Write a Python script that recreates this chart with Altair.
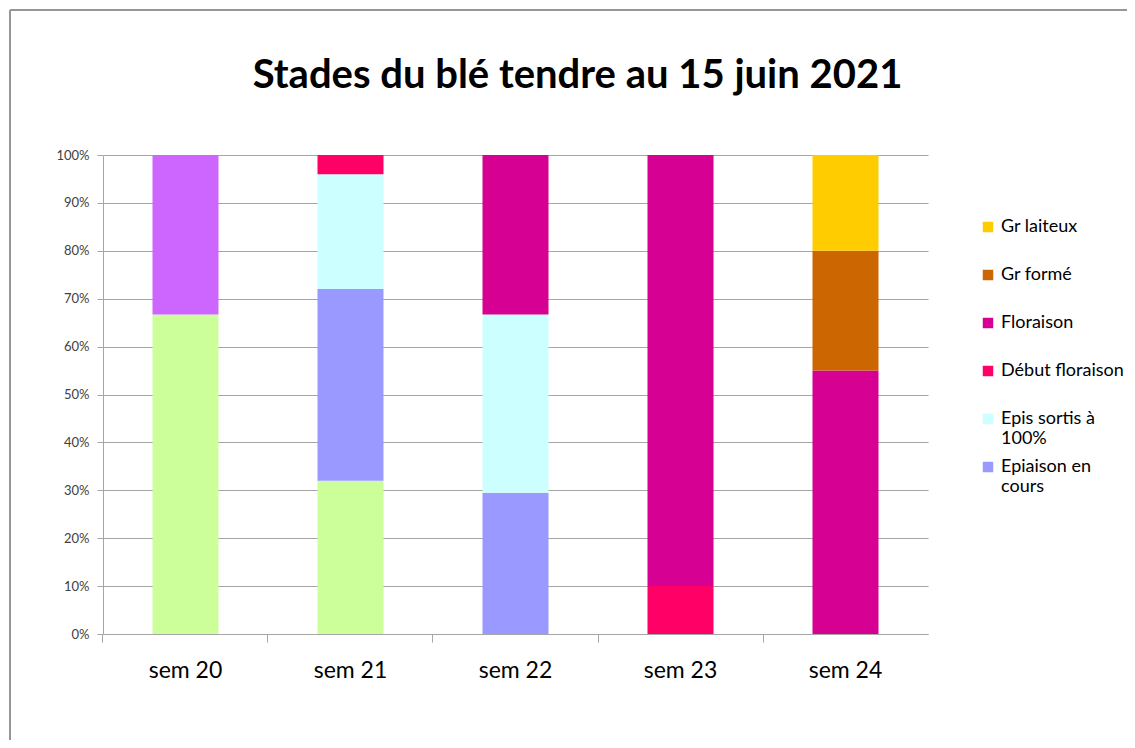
import altair as alt
import pandas as pd

weeks = ["sem 20", "sem 21", "sem 22", "sem 23", "sem 24"]

# Stages, bottom of stack first
stages = ["Dernière feuille étalée", "Gonflement", "Epiaison en cours",
          "Epis sortis à 100%", "Début floraison", "Floraison", "Gr formé", "Gr laiteux"]
colors = ["#CCFF99", "#CC66FF", "#9999FF", "#CCFFFF", "#FF0066", "#D60093", "#CC6600", "#FFCC00"]

# share of plots per stage, per week (values in %)
derniere_feuille = [66.7, 32.0, 0.0, 0.0, 0.0]
gonflement       = [33.3, 0.0, 0.0, 0.0, 0.0]
epiaison         = [0.0, 40.0, 29.5, 0.0, 0.0]
epis_sortis      = [0.0, 24.0, 37.2, 0.0, 0.0]
debut_floraison  = [0.0, 4.0, 0.0, 10.0, 0.0]
floraison        = [0.0, 0.0, 33.3, 90.0, 55.0]
gr_forme         = [0.0, 0.0, 0.0, 0.0, 25.0]
gr_laiteux       = [0.0, 0.0, 0.0, 0.0, 20.0]

legend_shown = ["Gr laiteux", "Gr formé", "Floraison", "Début floraison",
                "Epis sortis à 100%", "Epiaison en cours"]

series = [derniere_feuille, gonflement, epiaison, epis_sortis,
          debut_floraison, floraison, gr_forme, gr_laiteux]
rows = []
for i, (st, vals) in enumerate(zip(stages, series)):
    for w, v in zip(weeks, vals):
        if v > 0:
            rows.append({"sem": w, "stade": st, "pct": v / 100.0, "ordre": i})
df = pd.DataFrame(rows)

FONT = "Lato"

bars = alt.Chart(df).mark_bar().encode(
    x=alt.X("sem:N", sort=weeks, title=None,
            scale=alt.Scale(paddingInner=0.6, paddingOuter=0.3),
            axis=alt.Axis(labelAngle=0, labelFontSize=23, labelColor="#000000",
                          labelFont=FONT, bandPosition=-0.75, labelOffset=0,
                          tickSize=8, tickColor="#A6A6A6", domainColor="#A6A6A6",
                          labelPadding=17)),
    y=alt.Y("pct:Q", stack="zero", title=None,
            scale=alt.Scale(domain=[0, 1]),
            axis=alt.Axis(format=".0%", values=[i / 10 for i in range(11)],
                          labelFontSize=13, labelColor="#404040", labelFont=FONT,
                          tickSize=6, tickColor="#A6A6A6", domainColor="#A6A6A6",
                          gridColor="#A6A6A6", labelPadding=8)),
    color=alt.Color("stade:N",
                    scale=alt.Scale(domain=stages, range=colors),
                    legend=alt.Legend(
                        values=legend_shown, title=None, orient="none",
                        legendX=876, legendY=63,
                        symbolType="square", symbolSize=110, symbolStrokeWidth=0,
                        labelFontSize=18, labelFont=FONT, labelColor="#000000",
                        rowPadding=10, labelOffset=4,
                        labelExpr="datum.label == 'Epis sortis à 100%' ? ['Epis sortis à', '100%'] : datum.label == 'Epiaison en cours' ? ['Epiaison en', 'cours'] : [datum.label, '']",
                        labelLimit=300)),
    order=alt.Order("ordre:Q", sort="ascending"),
)

frame_top = alt.Chart(df).mark_rule(color="#969696", strokeWidth=1.5).encode(
    x=alt.value(-93), x2=alt.value(1040), y=alt.value(-145))
frame_left = alt.Chart(df).mark_rule(color="#969696", strokeWidth=1.5).encode(
    x=alt.value(-93), y=alt.value(-145), y2=alt.value(600))

chart = alt.layer(frame_top, frame_left, bars).properties(
    width=825, height=479,
    title=alt.TitleParams("Stades du blé tendre au 15 juin 2021", fontSize=40,
                          font=FONT, fontWeight="bold", color="#000000",
                          anchor="middle", dx=62, offset=-87),
    autosize=alt.AutoSizeParams(type="none"),
    padding={"left": 95, "top": 147, "right": 199, "bottom": 106},
).configure_view(stroke=None).configure_axis(grid=True).configure_axisX(grid=False)

chart.save("out.html", embed_options={"renderer": "svg", "actions": False})
